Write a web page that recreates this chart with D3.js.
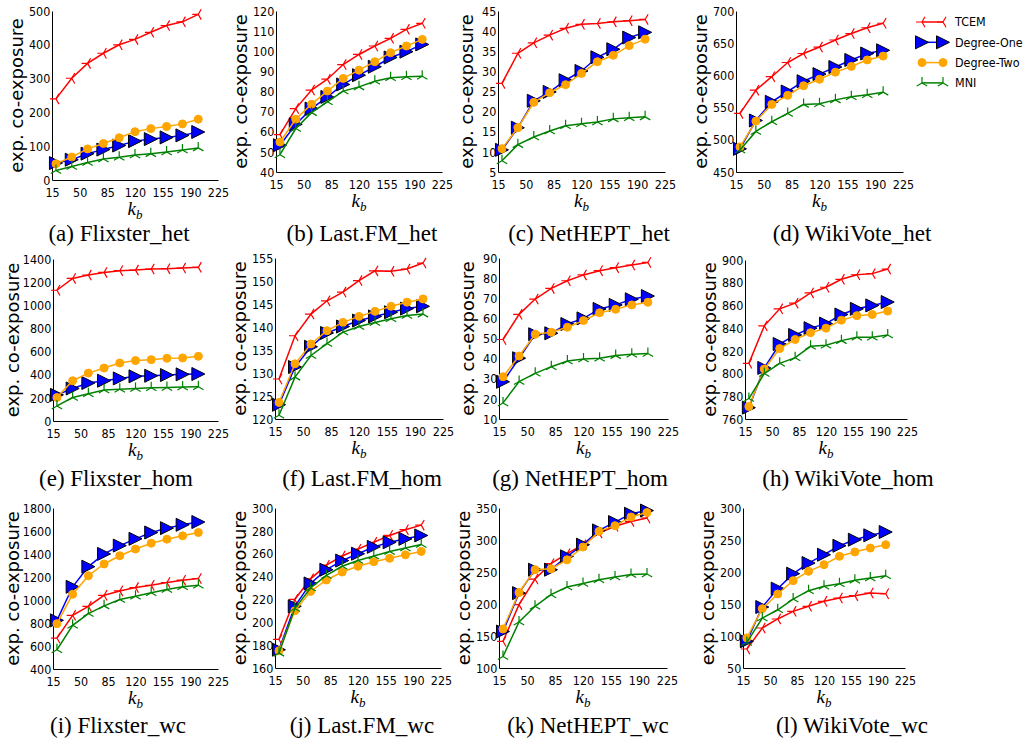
<!DOCTYPE html>
<html>
<head>
<meta charset="utf-8">
<script src="https://cdn.jsdelivr.net/npm/d3@7"></script>
<style>
body { margin: 0; background: #fff; }
</style>
</head>
<body>
<svg id="chart" width="1029" height="746"></svg>
<script>
// budget k_b on the x axis
const kb = [20, 40, 60, 80, 100, 120, 140, 160, 180, 200]
const xTicks = [15, 50, 85, 120, 155, 190, 225]
const seriesNames = ["TCEM", "Degree-One", "Degree-Two", "MNI"]
const captions = ["(a) Flixster_het", "(b) Last.FM_het", "(c) NetHEPT_het", "(d) WikiVote_het",
                  "(e) Flixster_hom", "(f) Last.FM_hom", "(g) NetHEPT_hom", "(h) WikiVote_hom",
                  "(i) Flixster_wc", "(j) Last.FM_wc", "(k) NetHEPT_wc", "(l) WikiVote_wc"]

// each panel: [TCEM, Degree-One, Degree-Two, MNI]
const flixsterHet = [
  [240, 301, 345, 375, 400, 416, 437, 457, 468, 490],
  [50, 60, 78, 90, 102, 115, 121, 126, 132, 142],
  [48, 68, 92, 108, 125, 143, 152, 158, 166, 180],
  [28, 40, 52, 62, 67, 74, 78, 83, 89, 95]]
const lastfmHet = [
  [58.6, 71.5, 80.7, 86.1, 93.4, 98.4, 102.6, 106.4, 110.9, 113.9],
  [53.3, 63.7, 71.5, 77.3, 83.5, 88.1, 92.3, 96.9, 99.8, 103.4],
  [54.9, 66.2, 73.7, 80.2, 86.5, 90.6, 94.8, 99.3, 102.6, 105.9],
  [48.6, 61.6, 69.5, 74.9, 80.2, 82.3, 85.1, 86.8, 87.3, 87.6]]
const netheptHet = [
  [27, 34.5, 37.1, 39, 40.7, 41.7, 41.9, 42.3, 42.6, 42.9],
  [10.5, 16, 22.7, 24.9, 27.8, 30.1, 33.5, 35.5, 38.4, 39.7],
  [10.8, 16, 22.3, 24.7, 26.7, 29.5, 32.4, 34, 36.4, 38],
  [7.8, 11.8, 13.7, 15.2, 16.5, 17, 17.4, 18.2, 18.5, 18.7]]
const wikivoteHet = [
  [541, 577, 598, 620, 634, 644, 655, 665, 674, 681],
  [486, 530, 559, 575, 591, 602, 613, 624, 634, 639],
  [489, 529, 555, 569, 584, 594, 605, 614, 624, 630],
  [484, 513, 528, 541, 555, 556, 562, 567, 570, 574]]
const flixsterHom = [
  [1130, 1232, 1261, 1284, 1299, 1304, 1313, 1316, 1322, 1328],
  [226, 281, 328, 348, 368, 386, 391, 397, 403, 406],
  [203, 348, 414, 458, 501, 522, 530, 542, 545, 559],
  [130, 203, 235, 267, 275, 281, 287, 290, 293, 296]]
const lastfmHom = [
  [128.7, 138.1, 142.8, 145.7, 147.6, 150.1, 152.2, 152.1, 152.6, 153.9],
  [123.1, 131.3, 135.7, 138.7, 140.1, 141.4, 142.3, 143.2, 144, 144.5],
  [123.6, 132, 136.3, 139.2, 141, 142.3, 143.4, 144.5, 145.4, 146.1],
  [120.8, 129.1, 133.8, 136.4, 138.9, 140.1, 141, 141.8, 142.5, 142.8]]
const netheptHom = [
  [49.5, 62, 69.6, 74.9, 78.7, 81.6, 83.7, 85.2, 86.5, 87.8],
  [28.5, 40.2, 52.1, 52.6, 57.2, 60, 64.7, 66.7, 69.5, 71.1],
  [31, 41.3, 52.1, 53.1, 55.6, 58.9, 62.8, 64.5, 66.7, 68],
  [18, 28.6, 32.7, 36, 38.8, 39.8, 40.2, 41.5, 42.2, 42.5]]
const wikivoteHom = [
  [809, 842, 857, 862, 871, 876, 883, 887, 888, 892],
  [770, 805, 826, 834, 840, 844, 852, 857, 860, 863],
  [771, 804, 822, 830, 836, 840, 847, 851, 852, 855],
  [778, 800, 809, 814, 824, 825, 829, 832, 832, 834]]
const flixsterWc = [
  [669, 867, 945, 1041, 1079, 1108, 1128, 1152, 1172, 1187],
  [823, 1115, 1290, 1401, 1473, 1532, 1587, 1625, 1654, 1678],
  [794, 1050, 1211, 1313, 1385, 1443, 1494, 1529, 1558, 1587],
  [567, 780, 882, 949, 1004, 1033, 1063, 1092, 1115, 1129]]
const lastfmWc = [
  [185, 220, 238, 250, 258, 264, 270, 276, 281, 285],
  [176, 214, 234, 246, 254, 260, 266, 270, 273, 276],
  [175, 210, 227, 237, 244, 249, 253, 256, 259, 262],
  [173, 212, 230, 241, 249, 254, 258, 262, 265, 268]]
const netheptWc = [
  [141.7, 199, 239, 263, 278.6, 292.7, 311, 321.4, 329, 334.4],
  [157, 217, 253.6, 253.6, 274.5, 292.7, 315, 328, 341, 346],
  [161, 218, 253.6, 255, 269, 289, 313.5, 322.4, 336, 343],
  [118, 172, 196.4, 214.6, 226.6, 232, 238, 242.2, 246, 247]]
const wikivoteWc = [
  [79.7, 112.5, 126.6, 138.5, 146.4, 154.2, 159.4, 163, 167.2, 166],
  [91.7, 145.3, 174, 197.4, 214, 227, 241, 250.5, 257.3, 262.5],
  [97, 142.7, 165.6, 186.5, 201, 211.5, 224.5, 231.3, 237.5, 242.7],
  [90, 128, 141, 157.7, 170.8, 177.6, 181.8, 187, 190.6, 194]]

const yTicksList = [
  [0, 100, 200, 300, 400, 500],
  [40, 50, 60, 70, 80, 90, 100, 110, 120],
  [5, 10, 15, 20, 25, 30, 35, 40, 45],
  [450, 500, 550, 600, 650, 700],
  [0, 200, 400, 600, 800, 1000, 1200, 1400],
  [120, 125, 130, 135, 140, 145, 150, 155],
  [10, 20, 30, 40, 50, 60, 70, 80, 90],
  [760, 780, 800, 820, 840, 860, 880, 900],
  [400, 600, 800, 1000, 1200, 1400, 1600, 1800],
  [160, 180, 200, 220, 240, 260, 280, 300],
  [100, 150, 200, 250, 300, 350],
  [50, 100, 150, 200, 250, 300]]

const panelData = [flixsterHet, lastfmHet, netheptHet, wikivoteHet,
                   flixsterHom, lastfmHom, netheptHom, wikivoteHom,
                   flixsterWc, lastfmWc, netheptWc, wikivoteWc]

// layout: plot box [left, right, top, bottom], caption position
const boxes = [
  [52, 218, 11, 180], [276, 442, 11, 172], [498, 665, 11, 172], [736, 903, 11, 172],
  [53, 218, 259, 421], [275, 443, 258, 419], [499, 668, 258, 419], [745, 907, 260, 419],
  [53, 218, 508, 669], [275, 441, 508, 668], [499, 667, 508, 668], [743, 905, 508, 668]]
const captionX = [119, 362, 589, 852, 116, 362, 580, 848, 118, 362, 588, 852]
const captionY = [241, 241, 241, 241, 486, 486, 486, 486, 733, 733, 733, 733]

const colors = ["#ff0000", "#0000ff", "#ffa500", "#008000"]
const tickFont = "DejaVu Sans, sans-serif"
const squeeze = "scale(0.86,1)"

const svg = d3.select("#chart")

function triLeft(r) {
  return `M0,0L${-r},0M0,0L${r*0.5},${-r*0.866}M0,0L${r*0.5},${r*0.866}`
}
function triUp(r) {
  return `M0,0L0,${-r}M0,0L${-r*0.866},${r*0.5}M0,0L${r*0.866},${r*0.5}`
}

function drawMarker(g, s, px, py) {
  if (s == 0) {
    g.append("path").attr("d", triLeft(6)).attr("transform", `translate(${px},${py})`)
      .attr("stroke", colors[0]).attr("stroke-width", 1.2).attr("fill", "none")
  } else if (s == 1) {
    g.append("path").attr("d", "M6.5,0L-6.5,-6.5L-6.5,6.5Z").attr("transform", `translate(${px},${py})`)
      .attr("fill", colors[1]).attr("stroke", "black").attr("stroke-width", 1)
  } else if (s == 2) {
    g.append("circle").attr("cx", px).attr("cy", py).attr("r", 4)
      .attr("fill", colors[2]).attr("stroke", colors[2])
  } else {
    g.append("path").attr("d", triUp(6)).attr("transform", `translate(${px},${py})`)
      .attr("stroke", colors[3]).attr("stroke-width", 1.2).attr("fill", "none")
  }
}

panelData.forEach((series, p) => {
  const [x0, x1, y0, y1] = boxes[p]
  const ticks = yTicksList[p]
  const x = d3.scaleLinear().domain([15, 225]).range([x0, x1])
  const y = d3.scaleLinear().domain([ticks[0], ticks[ticks.length - 1]]).range([y1, y0])
  const g = svg.append("g")

  const xa = g.append("g").attr("transform", `translate(0,${y1})`)
    .call(d3.axisBottom(x).tickValues(xTicks).tickFormat(d3.format("d")).tickSize(0).tickPadding(8))
  const ya = g.append("g").attr("transform", `translate(${x0},0)`)
    .call(d3.axisLeft(y).tickValues(ticks).tickFormat(d3.format("d")).tickSize(0).tickPadding(2))
  for (const a of [xa, ya]) {
    a.attr("font-family", tickFont).attr("font-size", 13)
    a.selectAll("text").attr("fill", "#000").attr("transform", squeeze)
    a.select(".domain").attr("stroke", "#000").attr("stroke-width", 1)
  }

  const line = d3.line().x((d, j) => x(kb[j])).y(d => y(d))
  series.forEach((vals, s) => {
    g.append("path").datum(vals).attr("d", line)
      .attr("fill", "none").attr("stroke", colors[s]).attr("stroke-width", 1.5)
    vals.forEach((v, j) => drawMarker(g, s, x(kb[j]), y(v)))
  })

  // y label
  const chars = String(ticks[ticks.length - 1]).length
  const lx = x0 - (23 + chars * 4.3)
  g.append("text").attr("transform", `translate(${lx},${(y0 + y1) / 2}) rotate(-90)`)
    .attr("text-anchor", "middle").attr("dominant-baseline", "central")
    .attr("font-family", tickFont).attr("font-size", 18).text("exp. co-exposure")

  // x label k_b
  const kl = g.append("text").attr("x", (x0 + x1) / 2).attr("y", y1 + 35)
    .attr("text-anchor", "middle").attr("font-family", "Liberation Serif, serif")
  kl.append("tspan").attr("font-style", "italic").attr("font-size", 19).text("k")
  kl.append("tspan").attr("font-style", "italic").attr("font-size", 13).attr("dy", 4).text("b")

  g.append("text").attr("x", captionX[p]).attr("y", captionY[p])
    .attr("text-anchor", "middle").attr("font-family", "Liberation Serif, serif")
    .attr("font-size", 23).text(captions[p])
})

// legend
const legend = svg.append("g")
seriesNames.forEach((name, s) => {
  const ly = 22 + s * 20.3
  legend.append("line").attr("x1", 922).attr("x2", 943).attr("y1", ly).attr("y2", ly)
    .attr("stroke", colors[s]).attr("stroke-width", 1.5)
  drawMarker(legend, s, 922, ly)
  drawMarker(legend, s, 943, ly)
  legend.append("text").attr("x", 955).attr("y", ly).attr("dominant-baseline", "central")
    .attr("font-family", tickFont).attr("font-size", 13)
    .attr("transform", `translate(${955 * 0.14},0) ${squeeze}`).text(name)
})
</script>
</body>
</html>
